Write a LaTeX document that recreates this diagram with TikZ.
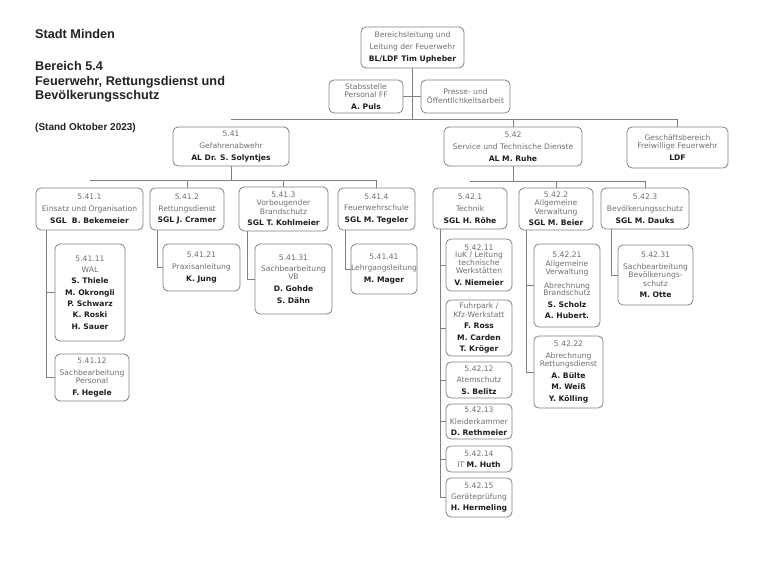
\documentclass[tikz,border=0pt]{standalone}
\usepackage{fontspec}
\setmainfont{DejaVu Sans}
\newfontfamily\titlefont{Liberation Sans}
\definecolor{txtgray}{HTML}{6E6E6E}
\definecolor{namec}{HTML}{1E1E1E}
\definecolor{linec}{HTML}{808080}
\definecolor{titlec}{HTML}{222222}
\newcommand\nm[1]{{\bfseries\color{namec}#1}}
\newcommand\bxfont{\fontsize{7.6}{8.8}\selectfont}
\begin{document}
\begin{tikzpicture}[x=1pt,y=-1pt,
  box/.style={draw=linec, rounded corners=5pt, line width=0.8pt, align=center, inner sep=0pt, font=\bxfont, text=txtgray},
  conn/.style={draw=linec, line width=0.8pt},
  ttl/.style={anchor=base west, inner sep=0pt, font=\titlefont\bfseries\fontsize{12.7}{14}\selectfont, text=titlec}]
\useasboundingbox (0,0) rectangle (780,567);
% titles
\node[ttl] (t1) at (35,39) {Stadt Minden};
\node[ttl] (t2) at (35,71) {Bereich 5.4};
\node[ttl] (t3) at (35,85.5) {Feuerwehr, Rettungsdienst und};
\node[ttl] (t4) at (35,100) {Bevölkerungsschutz};
\node[ttl, font=\titlefont\bfseries\fontsize{10}{12}\selectfont] (t5) at (35,131) {(Stand Oktober 2023)};
% level 0/1
\node[box, minimum width=103pt, minimum height=41pt] (top) at (412.5,47.5) {Bereichsleitung und\\[3pt]Leitung der Feuerwehr\\[3pt]\nm{BL/LDF Tim Upheber}};
\node[box, minimum width=74pt, minimum height=33pt] (stab) at (366,96.5) {Stabsstelle\\Personal FF\\[3pt]\nm{A. Puls}};
\node[box, minimum width=89pt, minimum height=33pt] (presse) at (465.5,96.5) {Presse- und\\Öffentlichkeitsarbeit};
\node[box, minimum width=116pt, minimum height=39pt] (b541) at (231,146.5) {5.41\\[3pt]Gefahrenabwehr\\[3pt]\nm{AL Dr. S. Solyntjes}};
\node[box, minimum width=138pt, minimum height=39pt] (b542) at (513,146.5) {5.42\\[3pt]Service und Technische Dienste\\[3pt]\nm{AL M. Ruhe}};
\node[box, minimum width=101pt, minimum height=41pt] (gb) at (677.5,147.5) {Geschäftsbereich\\Freiwillige Feuerwehr\\[3pt]\nm{LDF}};
% level 2
\node[box, minimum width=107pt, minimum height=42pt] (b5411) at (89.5,209) {5.41.1\\[3pt]Einsatz und Organisation\\[3pt]\nm{SGL\ \ B. Bekemeier}};
\node[box, minimum width=74pt, minimum height=42pt] (b5412) at (187,209) {5.41.2\\[3pt]Rettungsdienst\\[3pt]\nm{SGL J. Cramer}};
\node[box, minimum width=89pt, minimum height=44pt] (b5413) at (283.5,209) {5.41.3\\[-0.5pt]Vorbeugender\\[-0.5pt]Brandschutz\\[3pt]\nm{SGL T. Kohlmeier}};
\node[box, minimum width=77pt, minimum height=42pt] (b5414) at (376.5,209) {5.41.4\\[3pt]Feuerwehrschule\\[3pt]\nm{SGL M. Tegeler}};
\node[box, minimum width=74pt, minimum height=41pt] (b5421) at (470,208.5) {5.42.1\\[3pt]Technik\\[3pt]\nm{SGL H. Röhe}};
\node[box, minimum width=74pt, minimum height=42pt] (b5422) at (556,209) {5.42.2\\[-0.5pt]Allgemeine\\[-0.5pt]Verwaltung\\[3pt]\nm{SGL M. Beier}};
\node[box, minimum width=88pt, minimum height=41pt] (b5423) at (645,208.5) {5.42.3\\[3pt]Bevölkerungsschutz\\[3pt]\nm{SGL M. Dauks}};
% level 3
\node[box, minimum width=70pt, minimum height=97pt] (b54111) at (90,292.5) {5.41.11\\[2.5pt]WAL\\[2.5pt]\nm{S. Thiele}\\[2.5pt]\nm{M. Okrongli}\\[2.5pt]\nm{P. Schwarz}\\[2.5pt]\nm{K. Roski}\\[2.5pt]\nm{H. Sauer}};
\node[box, minimum width=74pt, minimum height=47pt] (b54112) at (92,377.5) {5.41.12\\[2.5pt]Sachbearbeitung\\Personal\\[2.5pt]\nm{F. Hegele}};
\node[box, minimum width=77pt, minimum height=47pt] (b54121) at (201.5,267.5) {5.41.21\\[3pt]Praxisanleitung\\[3pt]\nm{K. Jung}};
\node[box, minimum width=77pt, minimum height=70pt] (b54131) at (293.5,279) {5.41.31\\[2.5pt]Sachbearbeitung\\[-1pt]VB\\[3pt]\nm{D. Gohde}\\[3pt]\nm{S. Dähn}};
\node[box, minimum width=66pt, minimum height=50pt] (b54141) at (384,269) {5.41.41\\[3pt]Lehrgangsleitung\\[3pt]\nm{M. Mager}};
\node[box, minimum width=66pt, minimum height=52pt] (b54211) at (479,265) {5.42.11\\[-1pt]IuK / Leitung\\[-1pt]technische\\[-1pt]Werkstätten\\[3pt]\nm{V. Niemeier}};
\node[box, minimum width=66pt, minimum height=56pt] (fuhr) at (479,328) {Fuhrpark /\\Kfz-Werkstatt\\[2.5pt]\nm{F. Ross}\\[2.5pt]\nm{M. Carden}\\[2.5pt]\nm{T. Kröger}};
\node[box, minimum width=66pt, minimum height=36pt] (b54212) at (479,380) {5.42.12\\[2.5pt]Atemschutz\\[2.5pt]\nm{S. Belitz}};
\node[box, minimum width=66pt, minimum height=35pt] (b54213) at (479,421.5) {5.42.13\\[2.5pt]Kleiderkammer\\[2.5pt]\nm{D. Rethmeier}};
\node[box, minimum width=66pt, minimum height=26pt] (b54214) at (479,459) {5.42.14\\[2.5pt]IT \nm{M. Huth}};
\node[box, minimum width=66pt, minimum height=39pt] (b54215) at (479,497.5) {5.42.15\\[2.5pt]Geräteprüfung\\[2.5pt]\nm{H. Hermeling}};
\node[box, minimum width=66pt, minimum height=83pt] (b54221) at (567,285.5) {5.42.21\\[0pt]Allgemeine\\[-1pt]Verwaltung\\[5pt]Abrechnung\\[-1pt]Brandschutz\\[3pt]\nm{S. Scholz}\\[2.5pt]\nm{A. Hubert.}};
\node[box, minimum width=69pt, minimum height=72pt] (b54222) at (568.5,372) {5.42.22\\[3pt]Abrechnung\\[-0.5pt]Rettungsdienst\\[3pt]\nm{A. Bülte}\\[2.5pt]\nm{M. Weiß}\\[2.5pt]\nm{Y. Kölling}};
\node[box, minimum width=75pt, minimum height=60pt] (b54231) at (655.5,275) {5.42.31\\[3pt]Sachbearbeitung\\[-0.5pt]Bevölkerungs-\\[-0.5pt]schutz\\[3pt]\nm{M. Otte}};
% connectors level 0-1
\coordinate (bus1) at ([yshift=7pt]b541.north);
\draw[conn] (top.south) -- (top.south |- bus1);
\draw[conn] (stab.east) -- (presse.west);
\draw[conn] (bus1) -| (gb.north);
\draw[conn] (b542.north) -- (b542.north |- bus1);
% level 1-2
\coordinate (bus2) at ([yshift=7pt]b5411.north);
\draw[conn] (b541.south) -- (b541.south |- bus2);
\draw[conn] (bus2) -| (b5414.north);
\draw[conn] (b5412.north) -- (b5412.north |- bus2);
\draw[conn] (b5413.north) -- (b5413.north |- bus2);
\coordinate (bus3) at ([yshift=6pt]b5421.north);
\draw[conn] (b542.south) -- (b542.south |- bus3);
\draw[conn] (bus3) -| (b5423.north);
\draw[conn] (b5422.north) -- (b5422.north |- bus3);
% level 2-3
\draw[conn] ([xshift=11pt]b5411.south west) |- (b54111.west);
\draw[conn] ([xshift=11pt]b5411.south west) |- (b54112.west);
\draw[conn] ([xshift=8pt]b5412.south west) |- (b54121.west);
\draw[conn] ([xshift=9pt]b5413.south west) |- (b54131.west);
\draw[conn] ([xshift=8pt]b5414.south west) |- (b54141.west);
\draw[conn] ([xshift=8pt]b5421.south west) |- (b54211.west);
\draw[conn] ([xshift=8pt]b5421.south west) |- (fuhr.west);
\draw[conn] ([xshift=8pt]b5421.south west) |- (b54212.west);
\draw[conn] ([xshift=8pt]b5421.south west) |- (b54213.west);
\draw[conn] ([xshift=8pt]b5421.south west) |- (b54214.west);
\draw[conn] ([xshift=8pt]b5421.south west) |- (b54215.west);
\draw[conn] ([xshift=8pt]b5422.south west) |- (b54221.west);
\draw[conn] ([xshift=8pt]b5422.south west) |- (b54222.west);
\draw[conn] ([xshift=11pt]b5423.south west) |- (b54231.west);
\end{tikzpicture}
\end{document}
